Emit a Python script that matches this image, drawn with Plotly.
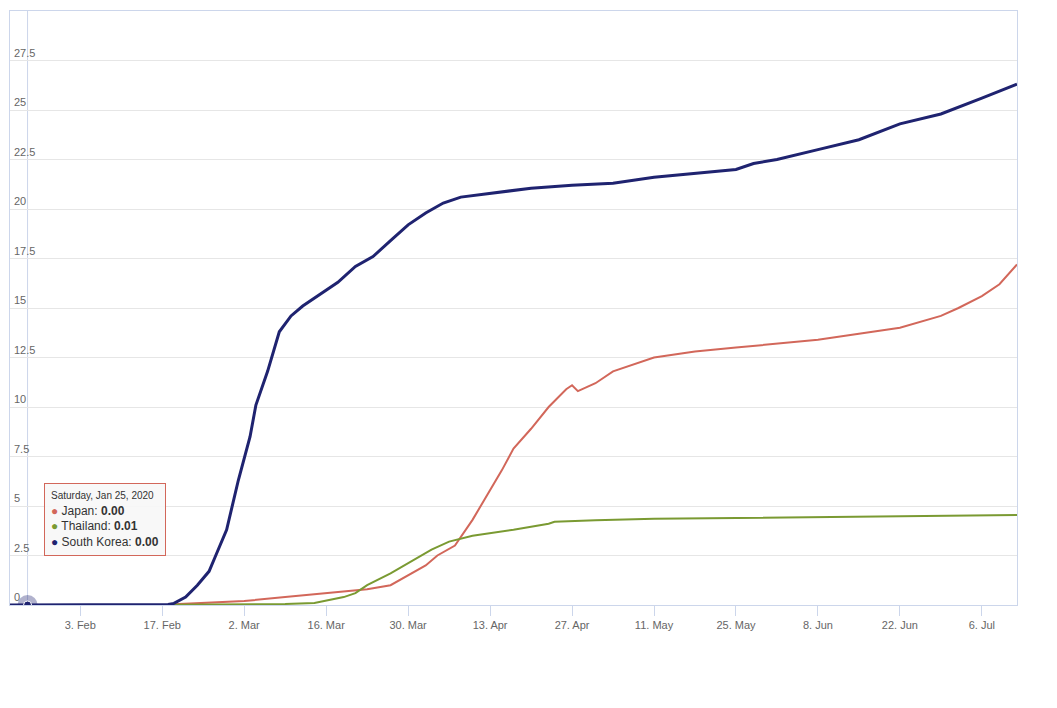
import plotly.graph_objects as go

kr_dates = ["2020-01-22","2020-02-18","2020-02-19","2020-02-21","2020-02-23","2020-02-25","2020-02-26","2020-02-28","2020-03-01","2020-03-03","2020-03-04","2020-03-06","2020-03-08","2020-03-10","2020-03-12","2020-03-15","2020-03-18","2020-03-21","2020-03-24","2020-03-27","2020-03-30","2020-04-02","2020-04-05","2020-04-08","2020-04-13","2020-04-20","2020-04-27","2020-05-04","2020-05-11","2020-05-18","2020-05-25","2020-05-28","2020-06-01","2020-06-08","2020-06-15","2020-06-22","2020-06-29","2020-07-06","2020-07-12"]
kr_vals = [0.0,0.03,0.08,0.4,1.0,1.7,2.4,3.8,6.3,8.5,10.1,11.8,13.8,14.6,15.1,15.7,16.3,17.1,17.6,18.4,19.2,19.8,20.3,20.6,20.8,21.05,21.2,21.3,21.6,21.8,22.0,22.3,22.5,23.0,23.5,24.3,24.8,25.6,26.3]

jp_dates = ["2020-02-18","2020-03-02","2020-03-09","2020-03-16","2020-03-23","2020-03-27","2020-03-30","2020-04-02","2020-04-04","2020-04-07","2020-04-10","2020-04-13","2020-04-15","2020-04-17","2020-04-20","2020-04-23","2020-04-26","2020-04-27","2020-04-28","2020-05-01","2020-05-04","2020-05-11","2020-05-18","2020-05-25","2020-06-01","2020-06-08","2020-06-15","2020-06-22","2020-06-29","2020-07-02","2020-07-06","2020-07-09","2020-07-12"]
jp_vals = [0.02,0.2,0.4,0.6,0.8,1.0,1.5,2.0,2.5,3.0,4.3,5.8,6.8,7.9,8.9,10.0,10.9,11.1,10.8,11.2,11.8,12.5,12.8,13.0,13.2,13.4,13.7,14.0,14.6,15.0,15.6,16.2,17.2]

th_dates = ["2020-02-18","2020-03-09","2020-03-14","2020-03-19","2020-03-21","2020-03-23","2020-03-27","2020-03-30","2020-04-03","2020-04-06","2020-04-10","2020-04-17","2020-04-23","2020-04-24","2020-05-01","2020-05-11","2020-05-25","2020-06-08","2020-06-22","2020-07-12"]
th_vals = [0.01,0.05,0.1,0.4,0.6,1.0,1.6,2.1,2.8,3.2,3.5,3.8,4.1,4.2,4.28,4.35,4.4,4.45,4.48,4.55]

tick_vals = ["2020-02-03","2020-02-17","2020-03-02","2020-03-16","2020-03-30","2020-04-13","2020-04-27","2020-05-11","2020-05-25","2020-06-08","2020-06-22","2020-07-06"]
tick_text = ["3. Feb","17. Feb","2. Mar","16. Mar","30. Mar","13. Apr","27. Apr","11. May","25. May","8. Jun","22. Jun","6. Jul"]
y_ticks = [0,2.5,5,7.5,10,12.5,15,17.5,20,22.5,25,27.5,30]

fig = go.Figure()
fig.add_trace(go.Scatter(x=jp_dates, y=jp_vals, name="Japan", mode="lines", line=dict(color="#d2675a", width=2)))
fig.add_trace(go.Scatter(x=th_dates, y=th_vals, name="Thailand", mode="lines", line=dict(color="#7a9a32", width=2)))
fig.add_trace(go.Scatter(x=kr_dates, y=kr_vals, name="South Korea", mode="lines", line=dict(color="#1f2370", width=3)))
fig.add_trace(go.Scatter(x=["2020-01-25"], y=[0], mode="markers", showlegend=False,
                         marker=dict(size=20, color="rgba(31,35,112,0.35)")))
fig.add_trace(go.Scatter(x=["2020-01-25"], y=[0], mode="markers", showlegend=False,
                         marker=dict(size=8, color="#1f2370", line=dict(color="white", width=1))))

fig.add_shape(type="line", x0="2020-01-25", x1="2020-01-25", y0=0, y1=30, layer="below",
              line=dict(color="#ccd6eb", width=1))

for v in y_ticks:
    fig.add_annotation(x=0, xref="paper", y=v, yref="y", text=str(v), showarrow=False,
                       xanchor="left", yanchor="bottom", xshift=2, yshift=0,
                       font=dict(color="#666", size=11))

fig.add_annotation(x=0.034, xref="paper", y=0.205, yref="paper", xanchor="left", yanchor="top",
                   showarrow=False, align="left", bgcolor="rgba(247,247,247,0.9)",
                   bordercolor="#d2675a", borderwidth=1, borderpad=6,
                   text="<span style='font-size:10px'>Saturday, Jan 25, 2020</span><br>"
                        "<span style='color:#d2675a'>●</span> Japan: <b>0.00</b><br>"
                        "<span style='color:#7a9a32'>●</span> Thailand: <b>0.01</b><br>"
                        "<span style='color:#1f2370'>●</span> South Korea: <b>0.00</b>",
                   font=dict(size=12, color="#333"))

fig.update_layout(
    width=1057, height=708, showlegend=False,
    paper_bgcolor="white", plot_bgcolor="white",
    margin=dict(l=2, r=48, t=3, b=111),
    font=dict(family="Liberation Sans, Arial, sans-serif"),
    xaxis=dict(range=["2020-01-22","2020-07-12"], tickvals=tick_vals, ticktext=tick_text,
               showgrid=False, ticks="outside", tickcolor="#ccd6eb", ticklen=10,
               tickfont=dict(color="#666", size=11), showline=True, linecolor="#ccd6eb", mirror=True),
    yaxis=dict(range=[0,30], tickvals=y_ticks, showticklabels=False, gridcolor="#e6e6e6",
               zeroline=False, showline=True, linecolor="#ccd6eb", mirror=True),
)
fig.write_html("out.html")
